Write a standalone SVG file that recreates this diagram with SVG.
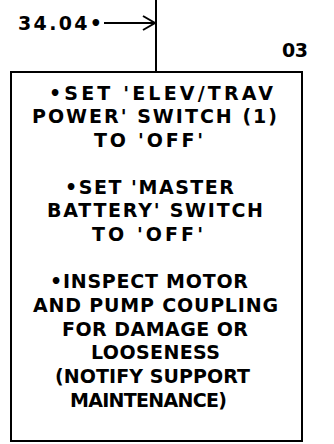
<svg xmlns="http://www.w3.org/2000/svg" width="334" height="444" viewBox="0 0 334 444">
<style>
.t{font-family:"DejaVu Sans","Liberation Sans",Arial,sans-serif;font-weight:bold;font-size:19px;fill:#000}
.ln{stroke:#000;stroke-width:2;fill:none}
</style>
<rect width="334" height="444" fill="#fff"/>
<g id="connectors">
<line class="ln" x1="156" y1="0" x2="156" y2="72"/>
<line class="ln" x1="104" y1="23" x2="155" y2="23"/>
<polyline class="ln" points="143,16 155,23 143,30"/>
</g>
<g id="ref">
<text class="t" x="18" y="30" textLength="84" lengthAdjust="spacing">34.04•</text>
</g>
<g id="label03">
<text class="t" x="282" y="57" textLength="26" lengthAdjust="spacing">03</text>
</g>
<g id="box03">
<rect class="ln" x="11" y="72" width="291" height="369"/>
<text class="t" x="49" y="100" textLength="224" lengthAdjust="spacing">•SET 'ELEV/TRAV</text>
<text class="t" x="32" y="123" textLength="245" lengthAdjust="spacing">POWER' SWITCH (1)</text>
<text class="t" x="94" y="147" textLength="109" lengthAdjust="spacing">TO 'OFF'</text>
<text class="t" x="65" y="194" textLength="169" lengthAdjust="spacing">•SET 'MASTER</text>
<text class="t" x="47" y="217" textLength="216" lengthAdjust="spacing">BATTERY' SWITCH</text>
<text class="t" x="92" y="241" textLength="111" lengthAdjust="spacing">TO 'OFF'</text>
<text class="t" x="50" y="288" textLength="198" lengthAdjust="spacing">•INSPECT MOTOR</text>
<text class="t" x="33" y="312" textLength="245" lengthAdjust="spacing">AND PUMP COUPLING</text>
<text class="t" x="62" y="336" textLength="186" lengthAdjust="spacing">FOR DAMAGE OR</text>
<text class="t" x="91" y="359" textLength="129" lengthAdjust="spacing">LOOSENESS</text>
<text class="t" x="55" y="383" textLength="195" lengthAdjust="spacing">(NOTIFY SUPPORT</text>
<text class="t" x="70" y="407" textLength="157" lengthAdjust="spacing">MAINTENANCE)</text>
</g>
</svg>
